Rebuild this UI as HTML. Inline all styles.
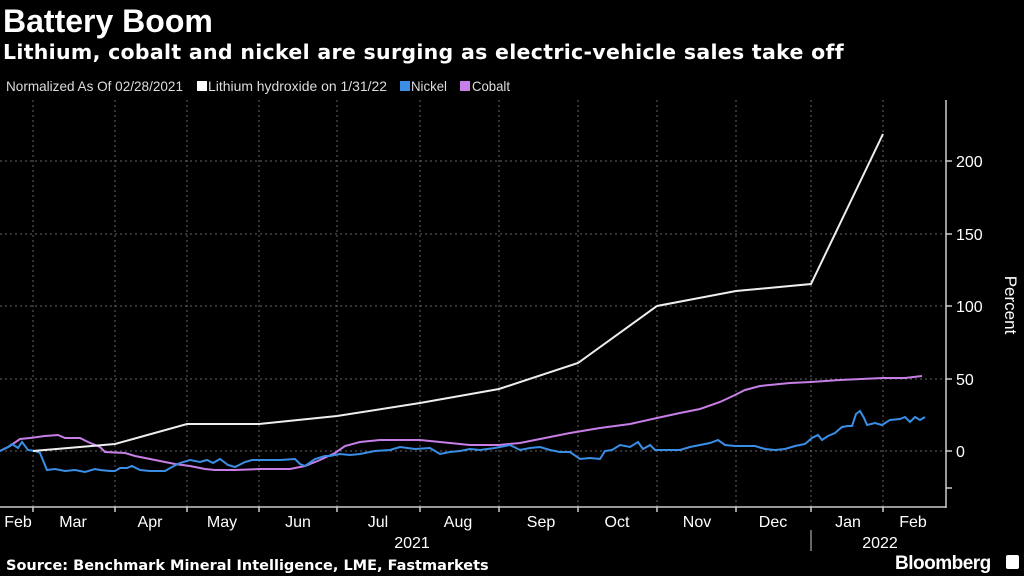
<!DOCTYPE html>
<html><head><style>
body{margin:0;background:#000;width:1024px;height:576px;overflow:hidden;font-family:"Liberation Sans",sans-serif;color:#fff}
</style></head><body>
<svg width="1024" height="576" xmlns="http://www.w3.org/2000/svg" style="position:absolute;left:0;top:0">
<text x="3" y="32" font-size="32" font-weight="bold" fill="#fff" font-family="Liberation Sans">Battery Boom</text>
<text x="3" y="59" font-size="20.5" font-weight="bold" fill="#fff" font-family="DejaVu Sans" letter-spacing="0.3">Lithium, cobalt and nickel are surging as electric-vehicle sales take off</text>
<g font-size="14" fill="#ddd" font-family="Liberation Sans">
<text x="6" y="91" textLength="177" lengthAdjust="spacingAndGlyphs">Normalized As Of 02/28/2021</text>
<rect x="197" y="81" width="10" height="10" fill="#fff"/><text x="208" y="91" textLength="179" lengthAdjust="spacingAndGlyphs">Lithium hydroxide on 1/31/22</text>
<rect x="400" y="81" width="10" height="10" fill="#3a8ee6"/><text x="411" y="91" textLength="36" lengthAdjust="spacingAndGlyphs">Nickel</text>
<rect x="460" y="81" width="10" height="10" fill="#c77ee6"/><text x="472" y="91" textLength="38" lengthAdjust="spacingAndGlyphs">Cobalt</text>
</g>
<g stroke="#666" stroke-dasharray="2,3" stroke-width="1">
<line x1="0" y1="451" x2="946" y2="451"/><line x1="0" y1="379" x2="946" y2="379"/><line x1="0" y1="306" x2="946" y2="306"/><line x1="0" y1="234" x2="946" y2="234"/><line x1="0" y1="161" x2="946" y2="161"/>
<line x1="33" y1="100" x2="33" y2="507"/><line x1="115" y1="100" x2="115" y2="507"/><line x1="187" y1="100" x2="187" y2="507"/><line x1="259" y1="100" x2="259" y2="507"/><line x1="337" y1="100" x2="337" y2="507"/><line x1="420" y1="100" x2="420" y2="507"/><line x1="499" y1="100" x2="499" y2="507"/><line x1="578" y1="100" x2="578" y2="507"/><line x1="657" y1="100" x2="657" y2="507"/><line x1="736" y1="100" x2="736" y2="507"/><line x1="811" y1="100" x2="811" y2="507"/><line x1="883" y1="100" x2="883" y2="507"/>
</g>
<g stroke="#ccc" stroke-width="1.5" fill="none">
<line x1="946" y1="100" x2="946" y2="508"/><line x1="0" y1="507" x2="946" y2="507"/>
<line x1="946" y1="161" x2="952" y2="161"/><line x1="946" y1="234" x2="952" y2="234"/><line x1="946" y1="306" x2="952" y2="306"/><line x1="946" y1="379" x2="952" y2="379"/><line x1="946" y1="451" x2="952" y2="451"/><line x1="946" y1="488" x2="952" y2="488"/>
<line x1="33" y1="507" x2="33" y2="512"/><line x1="115" y1="507" x2="115" y2="512"/><line x1="187" y1="507" x2="187" y2="512"/><line x1="259" y1="507" x2="259" y2="512"/><line x1="337" y1="507" x2="337" y2="512"/><line x1="420" y1="507" x2="420" y2="512"/><line x1="499" y1="507" x2="499" y2="512"/><line x1="578" y1="507" x2="578" y2="512"/><line x1="657" y1="507" x2="657" y2="512"/><line x1="736" y1="507" x2="736" y2="512"/><line x1="811" y1="507" x2="811" y2="512"/><line x1="883" y1="507" x2="883" y2="512"/>
<line x1="811" y1="530" x2="811" y2="551" stroke="#888"/>
</g>
<g font-size="16" fill="#fff" font-family="Liberation Sans">
<text x="956" y="167">200</text><text x="956" y="240">150</text><text x="956" y="312">100</text><text x="956" y="385">50</text><text x="956" y="457">0</text>
<text transform="translate(1005,305) rotate(90)" text-anchor="middle" font-size="17">Percent</text>
<g text-anchor="middle">
<text x="18" y="527">Feb</text><text x="73" y="527">Mar</text><text x="150" y="527">Apr</text><text x="222" y="527">May</text><text x="298" y="527">Jun</text><text x="378" y="527">Jul</text><text x="458" y="527">Aug</text><text x="541" y="527">Sep</text><text x="617" y="527">Oct</text><text x="697" y="527">Nov</text><text x="773" y="527">Dec</text><text x="848" y="527">Jan</text><text x="913" y="527">Feb</text>
<text x="412" y="548">2021</text><text x="880" y="548">2022</text>
</g>
</g>
<text x="6" y="570" font-size="14.5" font-weight="bold" fill="#fff" font-family="DejaVu Sans">Source: Benchmark Mineral Intelligence, LME, Fastmarkets</text>
<text x="895" y="569" font-size="19" font-weight="bold" fill="#fff" font-family="Liberation Sans" letter-spacing="-0.5">Bloomberg</text>
<rect x="1006" y="555" width="13" height="14" rx="2" fill="#fff"/>
<polyline fill="none" stroke="#c77ee6" stroke-width="2" points="0,451 10,446 20,439 30,438 45,436 58,435 65,438 80,438 88,442 100,447 105,452 125,453 135,456 150,459 165,462 175,464 190,466 205,469 215,470 235,470 260,469 290,469 305,466 320,460 335,453 345,446 360,442 380,440 420,440 450,443 470,445 499,445 520,443 545,438 570,433 600,428 630,424 657,418 680,413 700,409 720,402 735,395 745,390 760,386 790,383 811,382 840,380 883,378 905,378 922,376"/>
<polyline fill="none" stroke="#3a8ee6" stroke-width="2" points="0,451 8,447 12,444 18,448 22,442 28,450 35,451 40,453 47,470 55,469 65,471 75,470 85,472 95,469 100,470 110,471 115,471 120,468 127,468 132,466 140,470 150,471 165,471 172,467 180,463 190,460 200,462 207,460 213,463 220,459 228,465 235,467 245,462 252,460 265,460 280,460 295,459 300,464 305,466 315,459 325,456 330,456 340,454 350,455 360,454 375,451 390,450 400,447 415,449 430,448 440,454 450,452 460,451 470,449 480,450 495,448 505,446 510,445 520,450 530,448 540,447 550,450 560,452 570,452 580,459 590,458 600,459 605,451 612,450 620,445 630,447 638,442 643,449 650,445 655,450 665,450 680,450 690,447 700,445 710,443 718,440 725,445 735,446 745,446 755,446 765,449 775,450 785,449 795,446 805,444 812,438 818,435 822,440 828,436 835,433 842,427 848,426 852,426 856,414 860,411 864,418 867,425 875,423 882,425 890,420 900,419 905,417 910,422 915,417 920,420 925,417"/>
<polyline fill="none" stroke="#eee" stroke-width="2" points="33,451 115,444 187,424 259,424 337,416 420,403 499,389 578,363 657,306 736,291 811,284 883,134"/>
</svg>
</body></html>
